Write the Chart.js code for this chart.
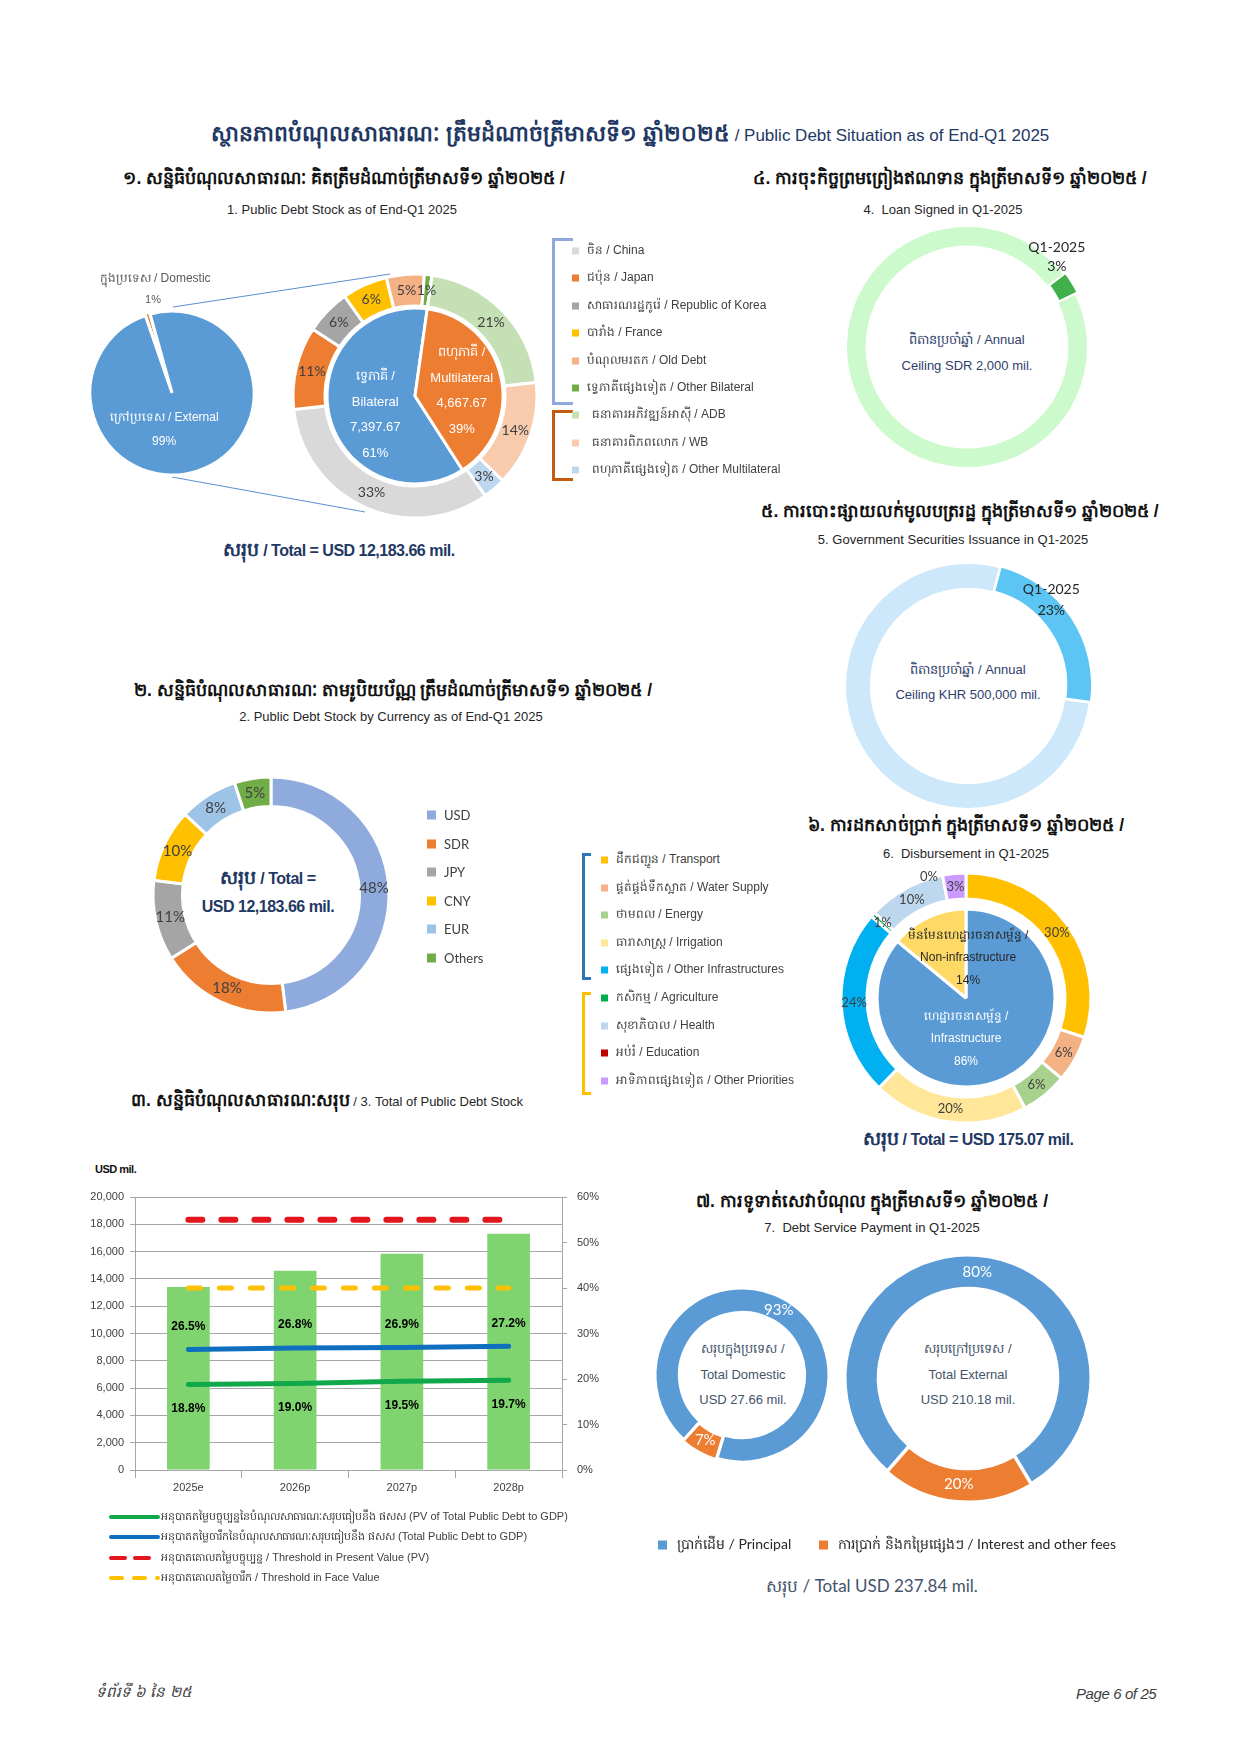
<!DOCTYPE html>
<html lang="km">
<head>
<meta charset="UTF-8" />
<title>Public Debt Situation as of End-Q1 2025</title>
<script src="https://cdn.jsdelivr.net/npm/chart.js@4.4.1/dist/chart.umd.min.js"></script>
<style>
  body { margin: 0; background: #fff; }
  .page { position: relative; width: 1240px; height: 1753px; overflow: hidden;
    font-family: "Liberation Sans", Arial, sans-serif; color: #262626; }
  .t { position: absolute; white-space: nowrap; transform: translate(-50%, -50%); }
  .l { position: absolute; white-space: nowrap; transform: translateY(-50%); }
  .box { position: absolute; }
  .kh { font-weight: bold; font-size: 17.5px; color: #111; }
  .sub { font-size: 13px; color: #262626; }
  .tot { font-weight: bold; font-size: 16px; color: #1f3864; letter-spacing: -0.5px; }
  .tot .k { font-size: 19px; letter-spacing: 0; }
  .mid { font-size: 13px; color: #2f3e6b; }
  .mid7 { font-size: 13px; color: #44546a; }
  .mk { position: absolute; transform: translateY(-50%); }
  .br { position: absolute; border-style: solid; border-right: none; }
</style>
</head>
<body>
<div class="page" id="page">

  <div class="t" style="left:630px; top:136px; color:#1f3864; font-size:17px;">
    <span style="font-weight:bold; font-size:22px;">ស្ថានភាពបំណុលសាធារណៈ ត្រឹមដំណាច់ត្រីមាសទី១ ឆ្នាំ២០២៥</span> / Public Debt Situation as of End-Q1 2025
  </div>

  <div class="t kh" style="left:344px; top:180px;">១. សន្និធិបំណុលសាធារណៈ គិតត្រឹមដំណាច់ត្រីមាសទី១ ឆ្នាំ២០២៥ /</div>
  <div class="t sub" style="left:342px; top:209px;">1. Public Debt Stock as of End-Q1 2025</div>
  <div class="t kh" style="left:950px; top:180px;">៤. ការចុះកិច្ចព្រមព្រៀងឥណទាន ក្នុងត្រីមាសទី១ ឆ្នាំ២០២៥ /</div>
  <div class="t sub" style="left:943px; top:209px;">4.&nbsp; Loan Signed in Q1-2025</div>
  <div class="t kh" style="left:960px; top:513px;">៥. ការបោះផ្សាយលក់មូលបត្ររដ្ឋ ក្នុងត្រីមាសទី១ ឆ្នាំ២០២៥ /</div>
  <div class="t sub" style="left:953px; top:539px;">5. Government Securities Issuance in Q1-2025</div>
  <div class="t kh" style="left:393px; top:692px;">២. សន្និធិបំណុលសាធារណៈ តាមរូបិយប័ណ្ណ ត្រឹមដំណាច់ត្រីមាសទី១ ឆ្នាំ២០២៥ /</div>
  <div class="t sub" style="left:391px; top:716px;">2. Public Debt Stock by Currency as of End-Q1 2025</div>
  <div class="t kh" style="left:966px; top:827px;">៦. ការដកសាច់ប្រាក់ ក្នុងត្រីមាសទី១ ឆ្នាំ២០២៥ /</div>
  <div class="t sub" style="left:966px; top:853px;">6.&nbsp; Disbursement in Q1-2025</div>
  <div class="t" style="left:327px; top:1102px;"><span class="kh">៣. សន្និធិបំណុលសាធារណៈសរុប</span><span class="sub"> / 3. Total of Public Debt Stock</span></div>
  <div class="t kh" style="left:872px; top:1203px;">៧. ការទូទាត់សេវាបំណុល ក្នុងត្រីមាសទី១ ឆ្នាំ២០២៥ /</div>
  <div class="t sub" style="left:872px; top:1227px;">7.&nbsp; Debt Service Payment in Q1-2025</div>

  <div class="t tot" style="left:339px; top:551px;"><span class="k">សរុប</span> / Total = USD 12,183.66 mil.</div>
  <div class="t tot" style="left:268px; top:879px;"><span class="k">សរុប</span> / Total =</div>
  <div class="t tot" style="left:268px; top:907px;">USD 12,183.66 mil.</div>
  <div class="t tot" style="left:968px; top:1140px;"><span class="k">សរុប</span> / Total = USD 175.07 mil.</div>
  <div class="t" style="left:872px; top:1587px; font-family:Lato,sans-serif; font-size:17px; color:#44546a;">សរុប / Total USD 237.84 mil.</div>

  <div class="t mid" style="left:967px; top:340px;">ពិតានប្រចាំឆ្នាំ / Annual</div>
  <div class="t mid" style="left:967px; top:365px;">Ceiling SDR 2,000 mil.</div>
  <div class="t mid" style="left:968px; top:670px;">ពិតានប្រចាំឆ្នាំ / Annual</div>
  <div class="t mid" style="left:968px; top:694px;">Ceiling KHR 500,000 mil.</div>

  <div class="t mid7" style="left:743px; top:1349px;">សរុបក្នុងប្រទេស /</div>
  <div class="t mid7" style="left:743px; top:1374px;">Total Domestic</div>
  <div class="t mid7" style="left:743px; top:1399px;">USD 27.66 mil.</div>
  <div class="t mid7" style="left:968px; top:1349px;">សរុបក្រៅប្រទេស /</div>
  <div class="t mid7" style="left:968px; top:1374px;">Total External</div>
  <div class="t mid7" style="left:968px; top:1399px;">USD 210.18 mil.</div>

  <div class="l" style="left:95px; top:1169px; font-weight:bold; font-size:11px; letter-spacing:-0.5px; color:#111;">USD mil.</div>

  <div class="br" style="left:552px; top:238px; width:18px; height:161px; border-width:3px; border-color:#8eaadb;"></div>
  <div class="br" style="left:552px; top:410px; width:18px; height:65px; border-width:3px; border-color:#c55a11;"></div>
  <div class="br" style="left:582px; top:853px; width:6px; height:121px; border-width:3px; border-color:#2e75b6;"></div>
  <div class="br" style="left:582px; top:992px; width:6px; height:97px; border-width:3px; border-color:#ffc000;"></div>

  <svg class="box" style="left:0; top:0;" width="1240" height="1753">
    <line x1="173" y1="307" x2="390" y2="274" stroke="#5b8fd0" stroke-width="1" />
    <line x1="172" y1="477" x2="365" y2="512" stroke="#5b8fd0" stroke-width="1" />
  </svg>

  <div class="l" style="left:96px; top:1693px; font-style:italic; font-size:15px; color:#404040;">ទំព័រទី ៦ នៃ ២៥</div>
  <div class="l" style="left:1076px; top:1693px; font-style:italic; font-size:15px; color:#404040; letter-spacing:-0.4px;">Page 6 of 25</div>
</div>

<script>
// ---- data ----
// 1. public debt stock
const stockSplit = ['ក្នុងប្រទេស / Domestic', 'ក្រៅប្រទេស / External'];
const stockSplitValues = [118.32, 12065.34];
const creditorTypes = ['ទ្វេភាគី / Bilateral', 'ពហុភាគី / Multilateral'];
const creditorTypeValues = [7397.67, 4667.67];
const lenders = ['ចិន / China', 'ជប៉ុន / Japan', 'សាធារណរដ្ឋកូរ៉េ / Republic of Korea', 'បារាំង / France',
  'បំណុលមរតក / Old Debt', 'ទ្វេភាគីផ្សេងទៀត / Other Bilateral', 'ធនាគារអភិវឌ្ឍន៍អាស៊ី / ADB',
  'ធនាគារពិភពលោក / WB', 'ពហុភាគីផ្សេងទៀត / Other Multilateral'];
const lenderShares = [33, 11, 6, 6, 5, 1, 21, 14, 3];
const lenderColors = ['#d9d9d9', '#ed7d31', '#a5a5a5', '#ffc000', '#f4b183', '#70ad47', '#c5e0b4', '#f8cbad', '#bdd7ee'];

// 4. loans signed / 5. securities issued (share of annual ceiling)
const ceilingParts = ['Q1-2025', 'Remaining'];
const loanSignedShares = [3, 97];
const securitiesShares = [23, 77];

// 2. by currency
const currencies = ['USD', 'SDR', 'JPY', 'CNY', 'EUR', 'Others'];
const currencyShares = [48, 18, 11, 10, 8, 5];
const currencyColors = ['#8faadc', '#ed7d31', '#a5a5a5', '#ffc000', '#9dc3e6', '#70ad47'];

// 6. disbursement
const sectors = ['ដឹកជញ្ជូន / Transport', 'ផ្គត់ផ្គង់ទឹកស្អាត / Water Supply', 'ថាមពល / Energy',
  'ធារាសាស្ត្រ / Irrigation', 'ផ្សេងទៀត / Other Infrastructures', 'កសិកម្ម / Agriculture',
  'សុខាភិបាល / Health', 'អប់រំ / Education', 'អាទិភាពផ្សេងទៀត / Other Priorities'];
const sectorShares = [30, 6, 6, 20, 24, 0.6, 10, 0, 3];
const sectorColors = ['#ffc000', '#f4b183', '#a9d18e', '#ffe699', '#00b0f0', '#00b050', '#bdd7ee', '#c00000', '#cc99ff'];
const sectorGroupShares = [86, 14];

// 3. total public debt stock
const years = ['2025e', '2026p', '2027p', '2028p'];
const debtStock = [13400, 14600, 15850, 17300];
const debtToGdp = [26.5, 26.8, 26.9, 27.2];
const pvDebtToGdp = [18.8, 19.0, 19.5, 19.7];
const pvThreshold = [55, 55, 55, 55];
const faceThreshold = [40, 40, 40, 40];
const leftTicks = [0, 2000, 4000, 6000, 8000, 10000, 12000, 14000, 16000, 18000, 20000];
const rightTicks = [0, 10, 20, 30, 40, 50, 60];

// 7. debt service
const serviceParts = ['ប្រាក់ដើម / Principal', 'ការប្រាក់ និងកម្រៃផ្សេងៗ / Interest and other fees'];
const domesticService = [93, 7];
const externalService = [80, 20];
// ---------------

const CAL = '"Lato", "Liberation Sans", sans-serif';
const ARI = '"Liberation Sans", Arial, sans-serif';
const GRAY = '#404040';
const page = document.getElementById('page');

Chart.defaults.animation = false;
Chart.defaults.events = [];
Chart.defaults.maintainAspectRatio = false;
Chart.defaults.plugins.legend.display = false;
Chart.defaults.plugins.tooltip.enabled = false;

const sum = a => a.reduce((s, v) => s + v, 0);
const pct = (v, a) => Math.round(v / sum(a) * 100) + '%';

function mount(left, top, w, h) {
  const box = document.createElement('div');
  box.className = 'box';
  box.style.cssText = `left:${left}px;top:${top}px;width:${w}px;height:${h}px`;
  const cv = document.createElement('canvas');
  box.appendChild(cv);
  page.appendChild(box);
  return cv;
}

function drawLines(ctx, lines, x, y, t) {
  ctx.save();
  ctx.font = t.font || '13px ' + CAL;
  ctx.fillStyle = t.color || GRAY;
  ctx.textAlign = 'center';
  ctx.textBaseline = 'middle';
  const lh = t.lh || 16;
  const y0 = y - (lines.length - 1) * lh / 2;
  lines.forEach((s, k) => ctx.fillText(s, x, y0 + k * lh));
  ctx.restore();
}

// labels on slices: ds.texts[j] = {lines, a (deg from top), r (px), ...}
const sliceText = {
  id: 'sliceText',
  afterDatasetsDraw(chart) {
    chart.data.datasets.forEach((ds, i) => {
      if (!ds.texts) return;
      chart.getDatasetMeta(i).data.forEach((el, j) => {
        [].concat(ds.texts[j] || []).forEach(t => {
          const p = el.getProps(['x', 'y', 'startAngle', 'endAngle', 'innerRadius', 'outerRadius'], true);
          const ang = t.a !== undefined ? (t.a - 90) * Math.PI / 180 : (p.startAngle + p.endAngle) / 2;
          const r = t.r !== undefined ? t.r : (p.innerRadius + p.outerRadius) / 2;
          drawLines(chart.ctx, t.lines, p.x + Math.cos(ang) * r, p.y + Math.sin(ang) * r, t);
        });
      });
    });
  }
};

const pointText = {
  id: 'pointText',
  afterDatasetsDraw(chart) {
    chart.data.datasets.forEach((ds, i) => {
      if (!ds.pointLabel) return;
      chart.getDatasetMeta(i).data.forEach((pt, j) => {
        drawLines(chart.ctx, [ds.data[j].toFixed(1) + '%'], pt.x, pt.y + ds.pointLabel.dy,
          { font: 'bold 12px ' + ARI, color: '#000' });
      });
    });
  }
};

function donut(cx, cy, r, datasets, extra) {
  const size = 2 * r + 160;
  return new Chart(mount(cx - size / 2, cy - size / 2, size, size), {
    type: 'doughnut',
    data: { labels: extra.labels, datasets },
    options: Object.assign({ radius: r, cutout: 0, layout: { padding: 0 } }, extra.options || {}),
    plugins: [sliceText]
  });
}

function legend(items, colors, x, y0, step, textX, opts) {
  items.forEach((s, i) => {
    const y = y0 + i * step;
    const m = document.createElement('div');
    m.className = 'mk';
    m.style.cssText = `left:${x}px;top:${y}px;width:${opts.size}px;height:${opts.size}px;background:${colors[i]}`;
    const t = document.createElement('div');
    t.className = 'l';
    t.textContent = s;
    t.style.cssText = `left:${textX + (opts.shift && i >= opts.shift[0] ? opts.shift[1] : 0)}px;top:${y}px;font-size:${opts.font}px;color:${opts.color || GRAY};font-family:${opts.family || ARI}`;
    page.appendChild(m);
    page.appendChild(t);
  });
}

// ---- 1. domestic / external pie ----
donut(172, 393, 82, [{
  data: stockSplitValues,
  backgroundColor: ['#ed7d31', '#5b9bd5'],
  borderColor: '#fff', borderWidth: 3, offset: [4, 0], rotation: -19,
  texts: [
    [{ lines: [stockSplit[0]], a: 351.6, r: 116, font: '12px ' + ARI, color: '#595959' },
     { lines: [pct(stockSplitValues[0], stockSplitValues)], a: 348.5, r: 95, font: '11px ' + ARI, color: '#595959' }],
    { lines: [stockSplit[1], pct(stockSplitValues[1], stockSplitValues)], a: 192, r: 38, lh: 24, font: '12px ' + ARI, color: '#fff' }
  ]
}], { labels: stockSplit });

// ---- 1. bilateral / multilateral pie with lender ring ----
const multiFrac = sum(lenderShares.slice(6)) / sum(lenderShares);
const multiFracInner = creditorTypeValues[1] / sum(creditorTypeValues);
donut(415, 396, 122, [
  {
    data: lenderShares, backgroundColor: lenderColors, borderColor: '#fff', borderWidth: 3,
    weight: 32, rotation: 8 + 360 * multiFrac,
    texts: lenderShares.map(v => ({ lines: [v + '%'], font: '14px ' + CAL, color: GRAY }))
  },
  { data: [1], backgroundColor: 'rgba(0,0,0,0)', borderWidth: 0, weight: 2 },
  {
    data: creditorTypeValues, backgroundColor: ['#5b9bd5', '#ed7d31'], borderColor: '#fff', borderWidth: 3,
    weight: 88, rotation: 8 + 360 * multiFracInner,
    texts: [
      { lines: ['ទ្វេភាគី /', 'Bilateral', '7,397.67', pct(creditorTypeValues[0], creditorTypeValues)], a: 244.6, r: 44, lh: 25.5, font: '13px ' + ARI, color: '#fff' },
      { lines: ['ពហុភាគី /', 'Multilateral', '4,667.67', pct(creditorTypeValues[1], creditorTypeValues)], a: 83.9, r: 47, lh: 25.5, font: '13px ' + ARI, color: '#fff' }
    ]
  }
], { labels: lenders });

legend(lenders, lenderColors, 572, 251, 27.4, 587, { size: 7, font: 12, shift: [6, 5] });

// ---- 4. loan signed ----
donut(967, 347, 121, [{
  data: loanSignedShares, backgroundColor: ['#3fb04a', '#ccfacc'], borderColor: '#fff', borderWidth: 2,
  offset: [5, 0], rotation: 53,
  texts: [{ lines: ['Q1-2025', loanSignedShares[0] + '%'], a: 45, r: 127, lh: 19, font: '14px ' + CAL, color: '#262626' }, null]
}], { labels: ceilingParts, options: { cutout: '83%' } });

// ---- 5. securities ----
donut(968, 686, 123, [{
  data: securitiesShares, backgroundColor: ['#5cc5f3', '#cce8fa'], borderColor: '#fff', borderWidth: 2,
  offset: [5, 0], rotation: 15,
  texts: [{ lines: ['Q1-2025', securitiesShares[0] + '%'], a: 44, r: 120, lh: 21, font: '14px ' + CAL, color: '#262626' }, null]
}], { labels: ceilingParts, options: { cutout: '79%' } });

// ---- 2. by currency ----
donut(271, 895, 118, [{
  data: currencyShares, backgroundColor: currencyColors, borderColor: '#fff', borderWidth: 3,
  texts: currencyShares.map(v => ({ lines: [v + '%'], font: '15px ' + CAL, color: GRAY }))
}], { labels: currencies, options: { cutout: '75%' } });

legend(currencies, currencyColors, 427, 815, 28.6, 444, { size: 9, font: 13, family: CAL });

// ---- 6. disbursement ----
const sectorTexts = sectorShares.map(v => ({ lines: [Math.round(v) + '%'], font: '13px ' + CAL, color: GRAY }));
sectorTexts[7] = { lines: ['0%'], a: 343, r: 127, font: '13px ' + CAL, color: GRAY };
donut(966, 998, 125, [
  { data: sectorShares, backgroundColor: sectorColors, borderColor: '#fff', borderWidth: 3, weight: 26, texts: sectorTexts },
  { data: [1], backgroundColor: 'rgba(0,0,0,0)', borderWidth: 0, weight: 10 },
  {
    data: sectorGroupShares, backgroundColor: ['#5b9bd5', '#ffd966'], borderColor: '#fff', borderWidth: 3, weight: 89,
    texts: [
      { lines: ['ហេដ្ឋារចនាសម្ព័ន្ធ /', 'Infrastructure', sectorGroupShares[0] + '%'], a: 180, r: 41, lh: 22.5, font: '12px ' + ARI, color: '#fff' },
      { lines: ['មិនមែនហេដ្ឋារចនាសម្ព័ន្ធ /', 'Non-infrastructure', sectorGroupShares[1] + '%'], a: 3, r: 40, lh: 22.5, font: '12px ' + ARI, color: '#262626' }
    ]
  }
], { labels: sectors });

legend(sectors, sectorColors, 601, 860, 27.6, 616, { size: 7, font: 12 });

// ---- 7. debt service ----
const serviceColors = ['#5b9bd5', '#ed7d31'];
donut(742, 1375, 87, [{
  data: domesticService, backgroundColor: serviceColors, borderColor: '#fff', borderWidth: 3,
  offset: [0, 4], rotation: 222,
  texts: domesticService.map(v => ({ lines: [v + '%'], font: '15px ' + CAL, color: '#fff' }))
}], { labels: serviceParts, options: { cutout: '72%' } });
donut(968, 1378, 123, [{
  data: externalService, backgroundColor: serviceColors, borderColor: '#fff', borderWidth: 3,
  offset: [0, 4], rotation: 221,
  texts: externalService.map(v => ({ lines: [v + '%'], font: '15px ' + CAL, color: '#fff' }))
}], { labels: serviceParts, options: { cutout: '73%' } });

legend([serviceParts[0]], [serviceColors[0]], 658, 1545, 0, 677, { size: 9, font: 14, family: CAL, color: '#262626' });
legend([serviceParts[1]], [serviceColors[1]], 819, 1545, 0, 838, { size: 9, font: 14, family: CAL, color: '#262626' });

// ---- 3. total public debt stock ----
const gridGray = '#a6a6a6';
new Chart(mount(80, 1180, 520, 320), {
  type: 'bar',
  data: {
    labels: years,
    datasets: [
      { type: 'line', data: pvThreshold, yAxisID: 'y1', borderColor: '#e3161d', borderWidth: 6,
        borderDash: [14, 19], borderCapStyle: 'round', pointRadius: 0, fill: false },
      { type: 'line', data: faceThreshold, yAxisID: 'y1', borderColor: '#ffc000', borderWidth: 5,
        borderDash: [12, 19], borderCapStyle: 'round', pointRadius: 0, fill: false },
      { type: 'line', data: debtToGdp, yAxisID: 'y1', borderColor: '#0f6fbf', borderWidth: 5,
        borderCapStyle: 'round', pointRadius: 0, fill: false, pointLabel: { dy: -23 } },
      { type: 'line', data: pvDebtToGdp, yAxisID: 'y1', borderColor: '#10a84b', borderWidth: 5,
        borderCapStyle: 'round', pointRadius: 0, fill: false, pointLabel: { dy: 24 } },
      { type: 'bar', data: debtStock, yAxisID: 'y', backgroundColor: '#7fd46f', order: 5,
        categoryPercentage: 1, barPercentage: 0.4 }
    ]
  },
  options: {
    layout: { padding: { top: 17, left: 0, right: 0, bottom: 0 } },
    scales: {
      x: {
        offset: true,
        grid: { offset: true, drawOnChartArea: false, drawTicks: true, tickLength: 8, color: gridGray },
        border: { display: true, color: gridGray },
        ticks: { color: GRAY, font: { size: 11, family: ARI }, padding: 3 },
        afterFit: s => { s.height = 30; }
      },
      y: {
        position: 'left', min: 0, max: 20000,
        afterBuildTicks: s => { s.ticks = leftTicks.map(v => ({ value: v })); },
        grid: { color: gridGray, tickLength: 5 },
        border: { display: true, color: gridGray },
        ticks: { color: GRAY, font: { size: 11, family: ARI }, padding: 6,
          callback: v => v.toLocaleString('en-US') },
        afterFit: s => { s.width = 55; }
      },
      y1: {
        position: 'right', min: 0, max: 60,
        afterBuildTicks: s => { s.ticks = rightTicks.map(v => ({ value: v })); },
        grid: { drawOnChartArea: false, color: gridGray, tickLength: 5 },
        border: { display: true, color: gridGray },
        ticks: { color: GRAY, font: { size: 11, family: ARI }, padding: 10, callback: v => v + '%' },
        afterFit: s => { s.width = 38; }
      }
    }
  },
  plugins: [pointText]
});

// legend for chart 3
const lineLegend = [
  { text: 'អនុបាតតម្លៃបច្ចុប្បន្ននៃបំណុលសាធារណៈសរុបធៀបនឹង ផសស (PV of Total Public Debt to GDP)', color: '#10a84b', dash: '' },
  { text: 'អនុបាតតម្លៃចារឹកនៃបំណុលសាធារណៈសរុបធៀបនឹង ផសស (Total Public Debt to GDP)', color: '#0f6fbf', dash: '' },
  { text: 'អនុបាតគោលតម្លៃបច្ចុប្បន្ន / Threshold in Present Value (PV)', color: '#e3161d', dash: '14 10' },
  { text: 'អនុបាតគោលតម្លៃចារឹក / Threshold in Face Value', color: '#ffc000', dash: '11 12' }
];
lineLegend.forEach((it, i) => {
  const y = 1517 + i * 20.3;
  const svg = document.createElementNS('http://www.w3.org/2000/svg', 'svg');
  svg.setAttribute('width', 54); svg.setAttribute('height', 10);
  svg.setAttribute('class', 'box');
  svg.style.left = '108px'; svg.style.top = (y - 5) + 'px';
  svg.innerHTML = `<line x1="3" y1="5" x2="50" y2="5" stroke="${it.color}" stroke-width="4" stroke-linecap="round" ${it.dash ? `stroke-dasharray="${it.dash}"` : ''} />`;
  page.appendChild(svg);
  const t = document.createElement('div');
  t.className = 'l';
  t.textContent = it.text;
  t.style.cssText = `left:161px;top:${y}px;font-size:11px;color:${GRAY}`;
  page.appendChild(t);
});
</script>
</body>
</html>
